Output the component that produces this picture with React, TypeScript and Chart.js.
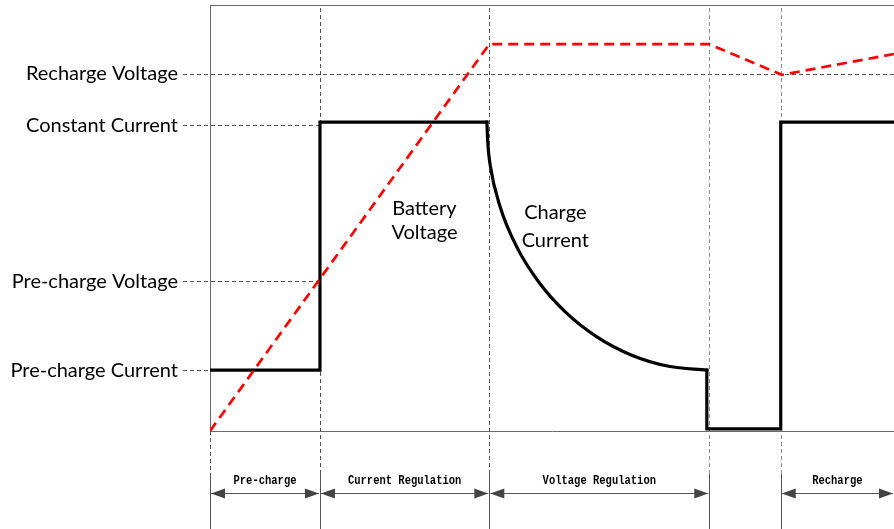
import React, { useEffect, useRef } from "react";
import { Chart, registerables } from "chart.js";
Chart.register(...registerables);

// ---- data (x: time units, y: percent of full scale) ----
const levelLabels = ["Recharge Voltage", "Constant Current", "Pre-charge Voltage", "Pre-charge Current"];
const levelValues = [83.8, 71.8, 35.2, 14.3];
const levelGuideEnds = [62.2, 10, 10, 0];

const phaseLabels = ["Pre-charge", "Current Regulation", "Voltage Regulation", "Recharge"];
const phaseStarts = [0, 10, 25.4, 51.9];
const phaseEnds = [10, 25.4, 45.4, 62.2];
const boundaries = [0, 10, 25.4, 45.4, 51.9];

const voltageX = [0, 25.4, 45.4, 52.0, 62.2];
const voltageY = [0, 90.8, 90.8, 83.6, 88.5];

const currentAX = [0, 10, 10, 25.18];
const currentAY = [14.3, 14.3, 72.5, 72.5];

const taperX = [25.18, 25.26, 25.48, 26.39, 27.86, 29.86, 32.33, 35.18, 38.35, 41.71, 45.18];
const taperY = [72.5, 67.7, 62.4, 52.6, 43.4, 35.1, 27.9, 22.1, 17.8, 15.2, 14.3];

const currentBX = [45.18, 45.18, 51.9, 51.9, 62.2];
const currentBY = [14.3, 0.5, 0.5, 72.5, 72.5];

const noteText = [["Battery", "Voltage"], ["Charge", "Current"]];
const noteX = [19.5, 31.4];
const noteY = [[52.3, 46.5], [51.2, 44.8]];

const pts = (xs: number[], ys: number[]) => xs.map((x, i) => ({ x, y: ys[i] }));

const LABEL_FONT = "Lato, 'Open Sans', sans-serif";

const decorPlugin = {
  id: "decor",
  beforeDatasetsDraw(chart: any) {
    const { ctx, chartArea, scales } = chart;
    const { left, right, top, bottom } = chartArea;
    const x = scales.x, y = scales.y;
    const H = chart.height;
    ctx.save();
    ctx.lineWidth = 1;
    // top border
    ctx.strokeStyle = "#6a6a6a";
    ctx.beginPath();
    ctx.moveTo(left, Math.round(top) + 0.5);
    ctx.lineTo(right, Math.round(top) + 0.5);
    ctx.stroke();

    ctx.strokeStyle = "#555";
    ctx.setLineDash([4, 3]);
    // horizontal level guides
    levelValues.forEach((v, i) => {
      const py = Math.round(y.getPixelForValue(v)) + 0.5;
      ctx.beginPath();
      ctx.moveTo(left - 27, py);
      ctx.lineTo(x.getPixelForValue(levelGuideEnds[i]), py);
      ctx.stroke();
    });
    // vertical phase guides
    boundaries.forEach((b, i) => {
      const px = Math.round(x.getPixelForValue(b)) + 0.5;
      ctx.strokeStyle = i >= 3 ? "#8a8a8a" : "#555";
      ctx.beginPath();
      ctx.moveTo(px, i === 0 ? bottom : top + 3);
      ctx.lineTo(px, bottom + 43);
      ctx.stroke();
    });
    ctx.setLineDash([]);
    ctx.strokeStyle = "#555";
    boundaries.forEach((b) => {
      const px = Math.round(x.getPixelForValue(b)) + 0.5;
      ctx.beginPath();
      ctx.moveTo(px, bottom + 43);
      ctx.lineTo(px, H);
      ctx.stroke();
    });
    ctx.restore();
  },
  afterDraw(chart: any) {
    const { ctx, chartArea, scales } = chart;
    const { bottom } = chartArea;
    const x = scales.x, y = scales.y;
    ctx.save();
    // phase arrows
    const ay = Math.round(bottom + 62) + 0.5;
    const AL = 14, AH = 5;
    ctx.lineWidth = 1;
    phaseLabels.forEach((lab, i) => {
      const x0 = x.getPixelForValue(phaseStarts[i]) + 1;
      const x1 = x.getPixelForValue(phaseEnds[i]) - 1;
      ctx.strokeStyle = "#555";
      ctx.fillStyle = "#444";
      ctx.beginPath();
      ctx.moveTo(x0, ay);
      ctx.lineTo(x1, ay);
      ctx.stroke();
      ctx.beginPath();
      ctx.moveTo(x0, ay);
      ctx.lineTo(x0 + AL, ay - AH);
      ctx.lineTo(x0 + AL, ay + AH);
      ctx.closePath();
      ctx.fill();
      ctx.beginPath();
      ctx.moveTo(x1, ay);
      ctx.lineTo(x1 - AL, ay - AH);
      ctx.lineTo(x1 - AL, ay + AH);
      ctx.closePath();
      ctx.fill();
      // condensed bold monospace label
      ctx.save();
      ctx.fillStyle = "#000";
      ctx.font = "bold 12.5px 'Liberation Mono', 'DejaVu Sans Mono', monospace";
      ctx.textAlign = "center";
      ctx.textBaseline = "middle";
      ctx.translate((x0 + x1) / 2, bottom + 50);
      ctx.scale(0.84, 1);
      ctx.fillText(lab, 0, 0);
      ctx.restore();
    });
    // annotations
    ctx.fillStyle = "#000";
    ctx.font = `20px ${LABEL_FONT}`;
    ctx.textAlign = "center";
    ctx.textBaseline = "middle";
    noteText.forEach((lines, i) => {
      lines.forEach((t, j) => {
        ctx.fillText(t, x.getPixelForValue(noteX[i]), y.getPixelForValue(noteY[i][j]));
      });
    });
    ctx.restore();
  },
};

export default function App() {
  const ref = useRef<HTMLCanvasElement | null>(null);
  useEffect(() => {
    if (!ref.current) return;
    const black = {
      borderColor: "#000",
      borderWidth: 3.2,
      pointRadius: 0,
      borderJoinStyle: "miter" as const,
      borderCapStyle: "square" as const,
      fill: false,
    };
    const chart = new Chart(ref.current, {
      type: "line",
      data: {
        datasets: [
          {
            label: "Battery Voltage",
            data: pts(voltageX, voltageY),
            borderColor: "#ff0000",
            borderWidth: 2.7,
            borderDash: [10, 6],
            pointRadius: 0,
            tension: 0,
            fill: false,
          },
          { label: "Charge Current", data: pts(currentAX, currentAY), ...black, tension: 0 },
          { label: "Charge Current taper", data: pts(taperX, taperY), ...black, cubicInterpolationMode: "monotone" },
          { label: "Charge Current recharge", data: pts(currentBX, currentBY), ...black, tension: 0 },
        ],
      },
      options: {
        animation: false,
        responsive: false,
        layout: { padding: { top: 5, left: 0, right: 0, bottom: 0 } },
        plugins: { legend: { display: false }, tooltip: { enabled: false } },
        scales: {
          x: {
            type: "linear",
            min: 0,
            max: 62.2,
            grid: { display: false, drawTicks: false },
            border: { display: true, color: "#6a6a6a", width: 1 },
            ticks: { display: false },
            afterFit: (s: any) => {
              s.height = 98;
              s.paddingLeft = 0;
              s.paddingRight = 0;
            },
          },
          y: {
            type: "linear",
            min: 0,
            max: 100,
            grid: { display: false, drawTicks: false },
            border: { display: true, color: "#6a6a6a", width: 1 },
            afterBuildTicks: (s: any) => {
              s.ticks = levelValues.slice().sort((a, b) => a - b).map((v) => ({ value: v }));
            },
            afterFit: (s: any) => {
              s.width = 210;
              s.paddingTop = 0;
              s.paddingBottom = 0;
            },
            ticks: {
              autoSkip: false,
              padding: 32,
              color: "#000",
              font: { family: LABEL_FONT, size: 20 },
              callback: (v: any) => levelLabels[levelValues.indexOf(Number(v))] ?? "",
            },
          },
        },
      },
      plugins: [decorPlugin],
    });
    return () => chart.destroy();
  }, []);
  return (
    <div style={{ position: "fixed", left: 0, top: 0, width: 894, height: 529, background: "#fff" }}>
      <canvas ref={ref} width={894} height={529} style={{ display: "block" }} />
    </div>
  );
}
